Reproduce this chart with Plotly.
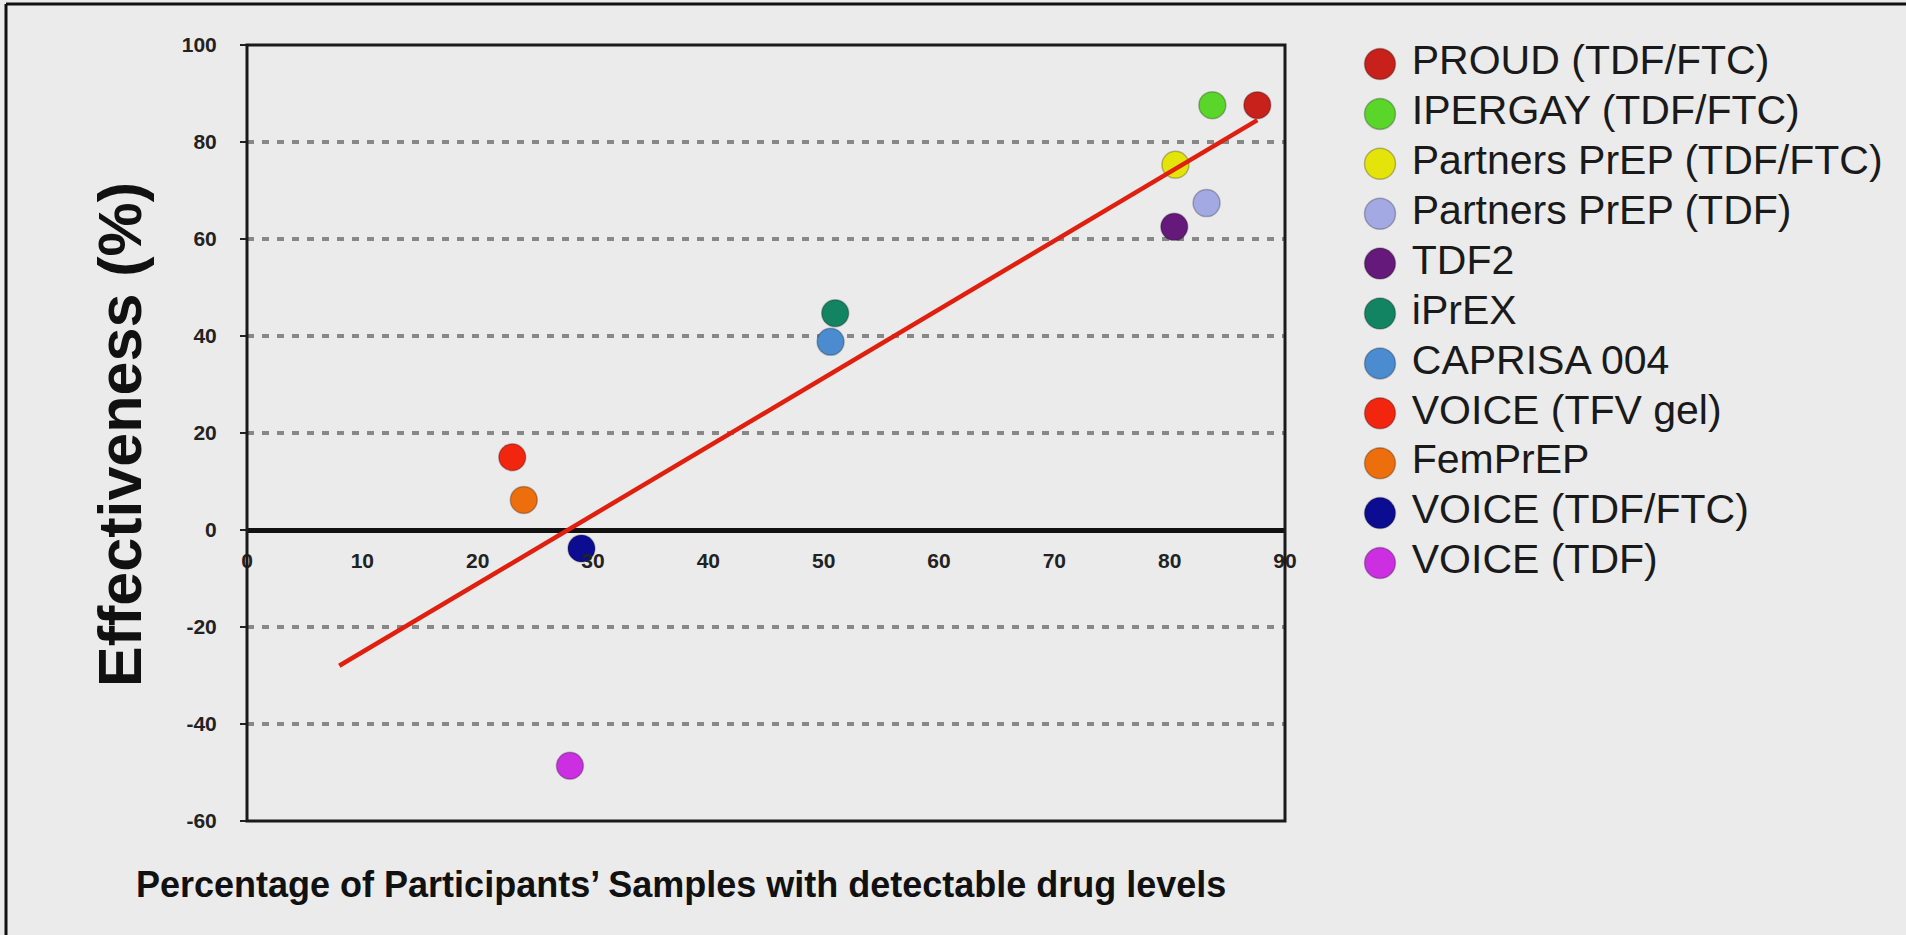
import plotly.graph_objects as go

# ---------------- data ----------------
studies = [
    "PROUD (TDF/FTC)",
    "IPERGAY (TDF/FTC)",
    "Partners PrEP (TDF/FTC)",
    "Partners PrEP (TDF)",
    "TDF2",
    "iPrEX",
    "CAPRISA 004",
    "VOICE (TFV gel)",
    "FemPrEP",
    "VOICE (TDF/FTC)",
    "VOICE (TDF)",
]
study_colors = [
    "#C8201A", "#5AD62A", "#E4E40A", "#A3A9E2", "#65197A", "#138461",
    "#4B8BD0", "#F2260F", "#EC6E0C", "#0C0C92", "#CC2FE2",
]
detectable_pct = [87.6, 83.7, 80.5, 83.2, 80.4, 51.0, 50.6, 23.0, 24.0, 29.0, 28.0]
effectiveness = [87.6, 87.6, 75.3, 67.4, 62.5, 44.7, 38.8, 15.0, 6.2, -3.8, -48.6]

trend_x = [8.0, 87.6]
trend_y = [-28.0, 84.5]

x_ticks = [0, 10, 20, 30, 40, 50, 60, 70, 80, 90]
y_ticks = [-60, -40, -20, 0, 20, 40, 60, 80, 100]

x_title = "Percentage of Participants\u2019 Samples with detectable drug levels"
y_title = "Effectiveness (%)"

# ---------------- layout geometry (reference pixels -> paper fractions) ----------------
W, H = 1906, 935
fx = lambda px: px / W
fy = lambda py: (H - py) / H

plot_l, plot_r, plot_t, plot_b = 247, 1285, 45, 821
xdom = [fx(plot_l), fx(plot_r)]
ydom = [fy(plot_b), fy(plot_t)]
y_min, y_max = y_ticks[0], y_ticks[-1]
zero_pos = ydom[0] + (0 - y_min) / (y_max - y_min) * (ydom[1] - ydom[0])

BG = "#EBEBEB"
SANS = "Liberation Sans, Arial, Helvetica, sans-serif"

fig = go.Figure()

# data points
for name, col, xv, yv in zip(studies, study_colors, detectable_pct, effectiveness):
    fig.add_trace(go.Scatter(
        x=[xv], y=[yv], mode="markers", name=name, showlegend=False,
        marker=dict(size=27, color=col, line=dict(color="rgba(0,0,0,0.25)", width=1.5)),
        xaxis="x", yaxis="y",
    ))

# trend line
fig.add_trace(go.Scatter(
    x=trend_x, y=trend_y, mode="lines", showlegend=False,
    line=dict(color="#E0200F", width=4.5), xaxis="x", yaxis="y",
))

# custom legend (large markers) on its own axes
fig.add_trace(go.Scatter(
    x=[0] * len(studies), y=list(range(len(studies))),
    mode="markers+text", text=["\u00a0" + s for s in studies], textposition="middle right",
    textfont=dict(family=SANS, size=41, color="#1A1A1A"),
    marker=dict(size=31, color=study_colors, line=dict(color="rgba(0,0,0,0.25)", width=1.5)),
    showlegend=False, xaxis="x2", yaxis="y2", hoverinfo="text",
))

leg_first, leg_row = 64, 49.9
leg_top = leg_first - leg_row / 2
leg_bottom = leg_top + leg_row * len(studies)
leg_marker_x = 1380

fig.update_layout(
    autosize=True,
    margin=dict(l=0, r=0, t=0, b=0, autoexpand=False),
    paper_bgcolor=BG, plot_bgcolor=BG,
    showlegend=False,
    xaxis=dict(
        domain=xdom, range=[x_ticks[0], x_ticks[-1]],
        anchor="free", position=zero_pos,
        tickvals=x_ticks, ticktext=[str(v) for v in x_ticks],
        showgrid=False, zeroline=False, showline=False, ticks="",
        tickfont=dict(family=SANS, size=21, color="#222222", weight="bold"),
        ticklabelstandoff=16,
    ),
    yaxis=dict(
        domain=ydom, range=[y_min, y_max],
        tickvals=y_ticks, ticktext=[str(v) for v in y_ticks],
        showgrid=True, gridcolor="#888888", gridwidth=3.5, griddash="7px,8px",
        zeroline=True, zerolinecolor="#111111", zerolinewidth=4.5,
        showline=False, ticks="outside", ticklen=6, tickwidth=2, tickcolor="#222222",
        tickfont=dict(family=SANS, size=21, color="#222222", weight="bold"),
        ticklabelstandoff=19,
    ),
    xaxis2=dict(
        domain=[fx(leg_marker_x - 20), 1.0], range=[-20, W - leg_marker_x],
        visible=False, fixedrange=True, anchor="y2",
    ),
    yaxis2=dict(
        domain=[fy(leg_bottom), fy(leg_top)],
        range=[len(studies) - 0.5, -0.5],
        visible=False, fixedrange=True, anchor="x2",
    ),
    shapes=[
        dict(type="rect", xref="x domain", yref="y domain", x0=0, x1=1, y0=0, y1=1,
             line=dict(color="#1A1A1A", width=3), layer="above"),
        dict(type="line", xref="paper", yref="paper", x0=fx(6), x1=fx(6), y0=0, y1=fy(4),
             line=dict(color="#111111", width=3)),
        dict(type="line", xref="paper", yref="paper", x0=fx(6), x1=1, y0=fy(4), y1=fy(4),
             line=dict(color="#111111", width=3)),
    ],
    annotations=[
        dict(text=x_title, xref="paper", yref="paper", x=fx(681), y=fy(884),
             xanchor="center", yanchor="middle", showarrow=False,
             font=dict(family=SANS, size=36, color="#111111", weight="bold")),
        dict(text=y_title, xref="paper", yref="paper", x=fx(120), y=fy(435),
             xanchor="center", yanchor="middle", showarrow=False, textangle=-90,
             font=dict(family=SANS, size=61, color="#111111", weight="bold")),
    ],
)

fig.write_html(
    "out.html",
    default_width="100vw",
    default_height="100vh",
    config={"displayModeBar": False, "responsive": True},
    post_script=(
        "document.documentElement.style.margin='0';"
        "document.body.style.margin='0';"
        "document.body.style.overflow='hidden';"
        "Plotly.Plots.resize(document.getElementById('{plot_id}'));"
    ),
)
